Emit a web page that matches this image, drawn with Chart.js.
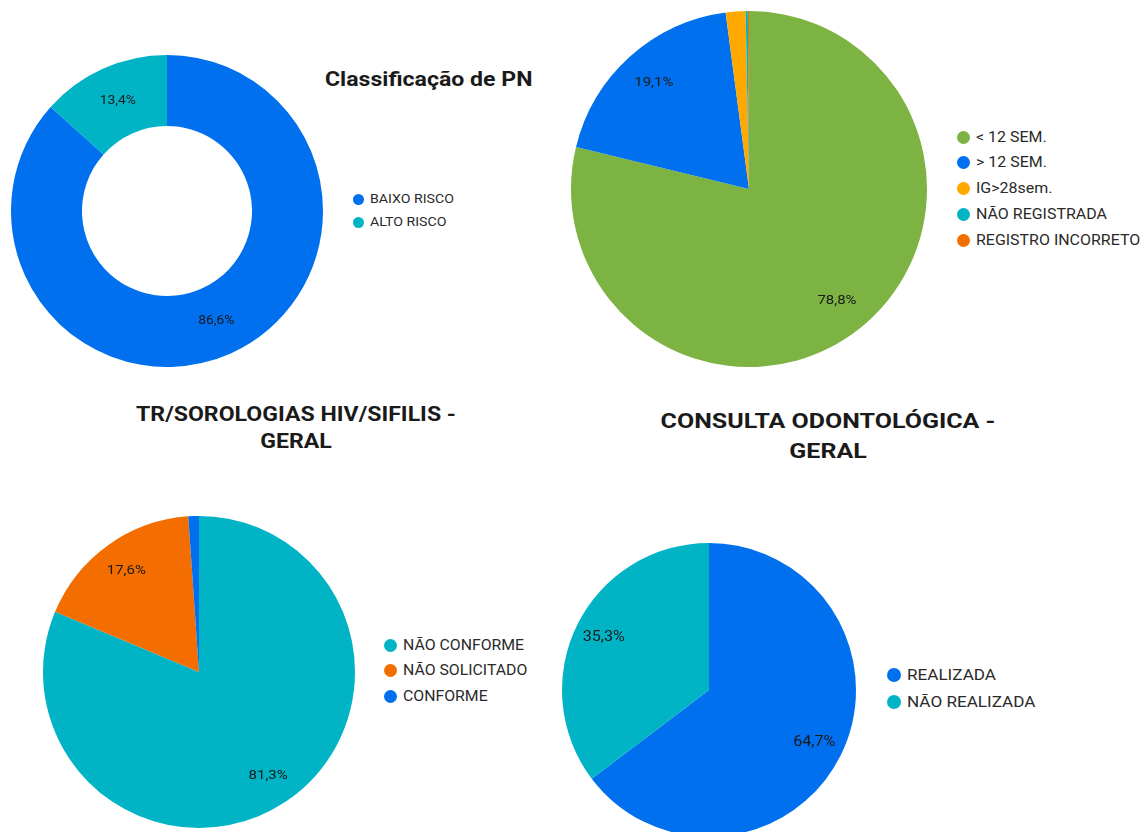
<!DOCTYPE html>
<html>
<head>
<meta charset="utf-8">
<script src="https://cdn.jsdelivr.net/npm/chart.js@4.4.1/dist/chart.umd.min.js"></script>
<style>
  html, body { margin: 0; padding: 0; background: #fff; width: 1144px; height: 832px; overflow: hidden; }
  body { position: relative; font-family: Roboto, "Noto Sans", sans-serif; color: #222; }
  .c { position: absolute; }
  .title { position: absolute; font-weight: bold; font-size: 21px; color: #1a1a1a; text-align: center; line-height: 27px; white-space: nowrap; transform: scaleX(1.1); }
  .li { position: absolute; white-space: nowrap; color: #2a2a2a; transform-origin: left center; }
  .dot { position: absolute; border-radius: 50%; }
</style>
</head>
<body>
<canvas id="c1" class="c"></canvas>
<canvas id="c2" class="c"></canvas>
<canvas id="c3" class="c"></canvas>
<canvas id="c4" class="c"></canvas>

<div class="title" style="left:325px; top:66px; text-align:left; transform-origin:left center;">Classificação de PN</div>
<div class="title" style="left:96px; top:401px; width:400px; transform-origin:center center;">TR/SOROLOGIAS HIV/SIFILIS -<br>GERAL</div>
<div class="title" style="left:628px; top:406px; width:400px; line-height:30px; transform-origin:center center; transform:scaleX(1.19);">CONSULTA ODONTOLÓGICA -<br>GERAL</div>

<div id="legends"></div>

<script>
// ---- Data ----
const pnLabels = ['BAIXO RISCO', 'ALTO RISCO'];
const pnValues = [86.6, 13.4];
const pnColors = ['#0070EE', '#00B4C6'];

const igLabels = ['< 12 SEM.', '> 12 SEM.', 'IG>28sem.', 'NÃO REGISTRADA', 'REGISTRO INCORRETO'];
const igValues = [78.8, 19.1, 1.8, 0.2, 0.1];
const igColors = ['#7CB342', '#0070EE', '#FFA800', '#00B4C6', '#F46D00'];

const trLabels = ['NÃO CONFORME', 'NÃO SOLICITADO', 'CONFORME'];
const trValues = [81.3, 17.6, 1.1];
const trColors = ['#00B4C6', '#F46D00', '#0070EE'];

const odLabels = ['REALIZADA', 'NÃO REALIZADA'];
const odValues = [64.7, 35.3];
const odColors = ['#0070EE', '#00B4C6'];

// ---- Percent label plugin ----
const pctPlugin = {
  id: 'pctLabels',
  afterDatasetsDraw(chart, args, opts) {
    const ctx = chart.ctx;
    const meta = chart.getDatasetMeta(0);
    const data = chart.data.datasets[0].data;
    const total = data.reduce((a, b) => a + b, 0);
    meta.data.forEach((arc, i) => {
      const v = data[i];
      if (v / total < 0.05) return;
      const p = arc.getProps(['x', 'y', 'startAngle', 'endAngle', 'innerRadius', 'outerRadius'], true);
      const mid = (p.startAngle + p.endAngle) / 2;
      const r = p.innerRadius > 0 ? (p.innerRadius + p.outerRadius) / 2 : p.outerRadius * (opts.frac || 0.8);
      const x = p.x + Math.cos(mid) * r;
      const y = p.y + Math.sin(mid) * r;
      ctx.save();
      ctx.font = (opts.size || 12) + 'px Roboto, sans-serif';
      ctx.fillStyle = '#1a1a1a';
      ctx.textAlign = 'center';
      ctx.textBaseline = 'middle';
      ctx.translate(x, y);
      ctx.scale(1.15, 1);
      ctx.fillText(v.toFixed(1).replace('.', ',') + '%', 0, 0);
      ctx.restore();
    });
  }
};

function makePie(id, left, top, size, labels, values, colors, cutout, labelSize) {
  const cv = document.getElementById(id);
  cv.style.left = left + 'px';
  cv.style.top = top + 'px';
  cv.width = size; cv.height = size;
  cv.style.width = size + 'px'; cv.style.height = size + 'px';
  new Chart(cv, {
    type: cutout ? 'doughnut' : 'pie',
    data: { labels: labels, datasets: [{ data: values, backgroundColor: colors, borderWidth: 0 }] },
    options: {
      responsive: false,
      animation: false,
      cutout: cutout || 0,
      layout: { padding: 0 },
      plugins: { legend: { display: false }, tooltip: { enabled: false }, pctLabels: { size: labelSize, frac: 0.8 } }
    },
    plugins: [pctPlugin]
  });
}

function makeLegend(x, y0, step, labels, colors, fontSize, dotR, sx) {
  const host = document.getElementById('legends');
  labels.forEach((lab, i) => {
    const cy = y0 + i * step;
    const d = document.createElement('div');
    d.className = 'dot';
    d.style.left = (x - dotR) + 'px';
    d.style.top = (cy - dotR) + 'px';
    d.style.width = d.style.height = (2 * dotR) + 'px';
    d.style.background = colors[i];
    host.appendChild(d);
    const t = document.createElement('div');
    t.className = 'li';
    t.style.left = (x + dotR + 6) + 'px';
    t.style.top = (cy - fontSize * 0.6) + 'px';
    t.style.fontSize = fontSize + 'px';
    t.style.lineHeight = (fontSize * 1.2) + 'px';
    t.style.transform = 'scaleX(' + sx + ')';
    t.textContent = lab;
    host.appendChild(t);
  });
}

makePie('c1', 11, 55, 312, pnLabels, pnValues, pnColors, '54.5%', 12);
makePie('c2', 571, 11, 356, igLabels, igValues, igColors, 0, 13);
makePie('c3', 43, 516, 312, trLabels, trValues, trColors, 0, 13);
makePie('c4', 562, 543, 294, odLabels, odValues, odColors, 0, 14);

makeLegend(358, 199, 23, pnLabels, pnColors, 12, 5.5, 1.18);
makeLegend(963, 137, 25.8, igLabels, igColors, 14, 6.5, 1.14);
makeLegend(390, 645, 25.5, trLabels, trColors, 14, 6.5, 1.13);
makeLegend(894, 675, 27, odLabels, odColors, 15, 7, 1.14);
</script>
</body>
</html>
